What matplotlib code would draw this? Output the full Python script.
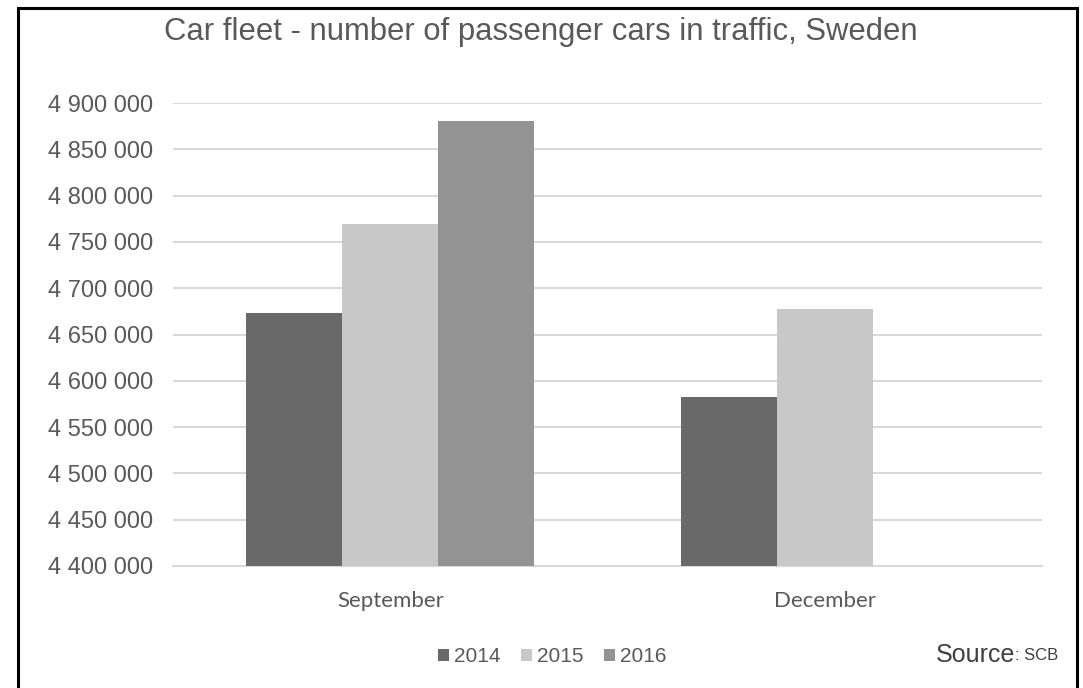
import matplotlib.pyplot as plt
import matplotlib.ticker as mticker
from matplotlib.patches import Rectangle
import numpy as np

months = ["September", "December"]
years = ["2014", "2015", "2016"]
cars_2014 = [4673400, 4582500]
cars_2015 = [4769400, 4677800]
cars_2016 = [4880200, None]
colors = ["#696969", "#c8c8c8", "#939393"]

plt.rcParams['font.family'] = ['Liberation Sans', 'DejaVu Sans']

fig = plt.figure(figsize=(10.83, 6.88), dpi=100)
ax = fig.add_axes([173/1083, 1-566/688, (1042-173)/1083, (566-103)/688])

x = np.arange(len(months))
w = 0.221
series = [cars_2014, cars_2015, cars_2016]
for i, (yr, vals) in enumerate(zip(years, series)):
    xs = [xi + (i-1)*w for xi, v in zip(x, vals) if v is not None]
    vs = [v for v in vals if v is not None]
    ax.bar(xs, vs, width=w, color=colors[i], label=yr, zorder=3)

ax.set_xlim(-0.5, 1.5)
ax.set_ylim(4400000, 4900000)
ax.yaxis.set_major_locator(mticker.MultipleLocator(50000))
ax.yaxis.set_major_formatter(mticker.FuncFormatter(lambda v, p: f"{int(v):,}".replace(",", " ")))
ax.grid(axis='y', color='#d9d9d9', linewidth=1.5, zorder=0)
for s in ['top', 'right', 'left']:
    ax.spines[s].set_visible(False)
ax.spines['bottom'].set_color('#d9d9d9')
ax.spines['bottom'].set_linewidth(1.5)
ax.tick_params(axis='y', length=0, pad=14, labelsize=17, labelcolor='#595959')
ax.tick_params(axis='x', length=0, pad=18)
ax.set_xticks(x)
ax.set_xticklabels(months, fontsize=16, color='#595959', family=['Lato', 'DejaVu Sans'])

fig.text(541/1083, 1-32/688, "Car fleet - number of passenger cars in traffic, Sweden",
         ha='center', va='center', fontsize=22.3, color='#595959')

ax.legend(loc='center', bbox_to_anchor=(552/1083, 1-657/688), bbox_transform=fig.transFigure,
          ncol=3, frameon=False, fontsize=15, labelcolor='#595959',
          handlelength=0.55, handleheight=0.55, handletextpad=0.2, columnspacing=1.0)

fig.text(1015/1083, 1-655/688, "Source", ha='right', va='center', fontsize=18, color='#404040')
fig.text(1015/1083, 1-656/688, ": SCB", ha='left', va='center', fontsize=12, color='#404040')

fig.patches.append(Rectangle((18/1083, -0.02), (1077-18)/1083, 1-8/688+0.02,
                             transform=fig.transFigure, fill=False, edgecolor='black',
                             linewidth=2.2, figure=fig))

fig.savefig("out.png", dpi=100)
